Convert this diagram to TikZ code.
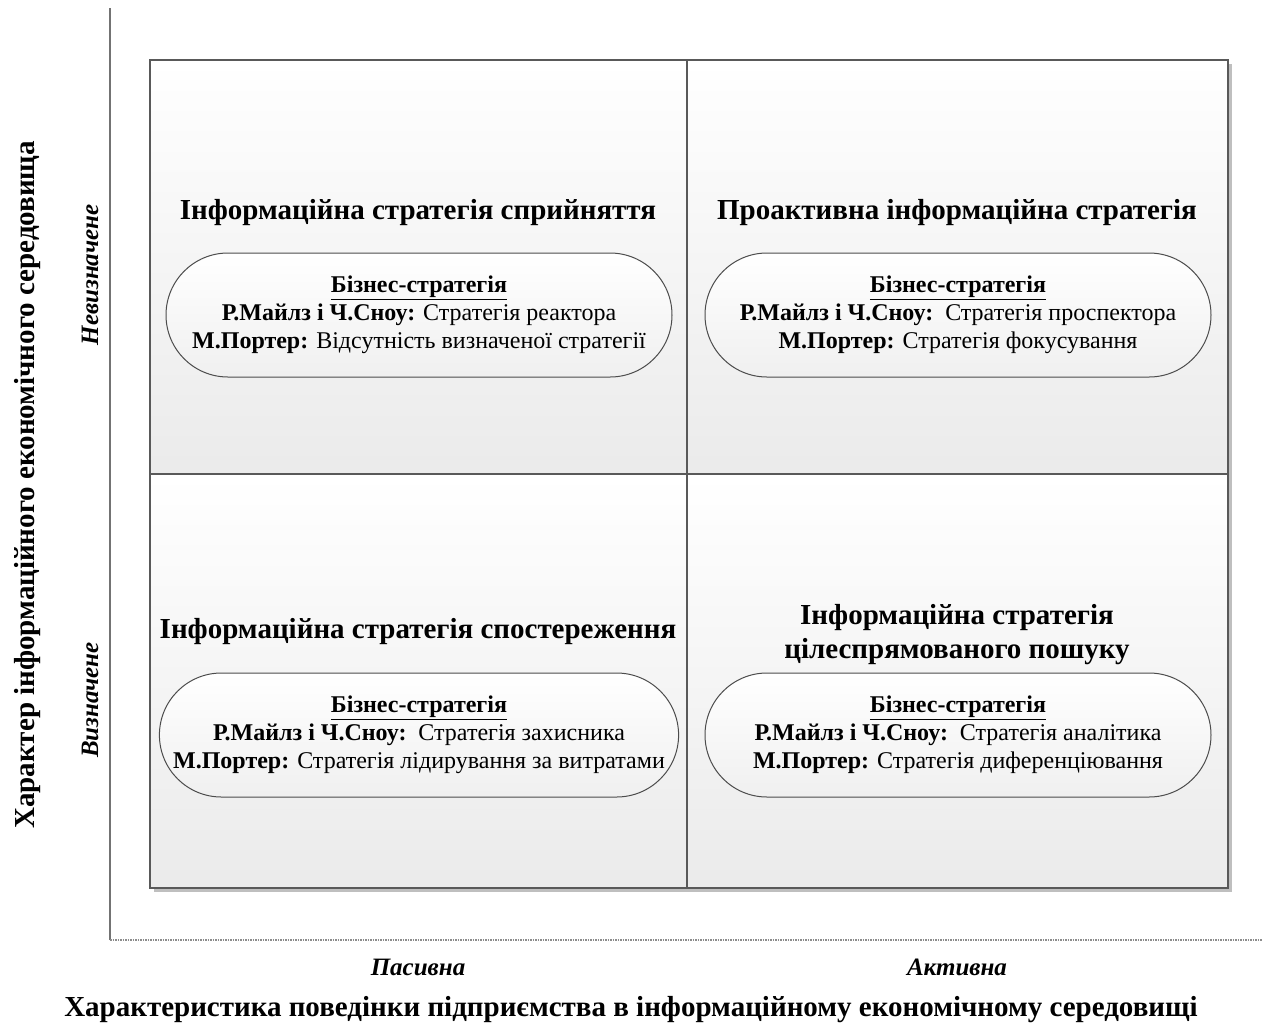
\documentclass[tikz,border=0pt]{standalone}
\usepackage{fontspec}
\setmainfont{Liberation Serif}
\usetikzlibrary{positioning,shapes.misc}

\begin{document}
\begin{tikzpicture}[x=1pt, y=-1pt, >=latex]
		\tikzstyle{quad}=[rectangle, draw=black!65, line width=1.2pt, top color=white, bottom color=black!8, inner sep=0pt, minimum height=414pt]
		\tikzstyle{pill}=[rounded rectangle, draw=black!70, line width=1pt, top color=white, bottom color=black!6, minimum width=506pt, minimum height=124pt, align=center, inner sep=0pt, font=\fontsize{24}{28}\selectfont]
		\tikzstyle{title}=[align=center, font=\fontsize{29}{34}\selectfont\bfseries]
		\tikzstyle{axis}=[font=\fontsize{25}{28}\selectfont\bfseries\itshape]
		\tikzstyle{axtitle}=[font=\fontsize{29}{32}\selectfont\bfseries]
		\useasboundingbox (0,0) rectangle (1262,1029);
		% axes
		\coordinate (o) at (110,940);
		\coordinate (ytop) at (110,8);
		\coordinate (xend) at (1262,940);
		\draw[black!55, line width=2pt] (o) -- (ytop);
		\draw[black!45, line width=1.5pt, densely dotted] (o) -- (xend);
		% shadow of the grid
		\fill[black!25] (154,64) rectangle (1232,892);
		% quadrants
		\node[quad, minimum width=537pt] (q1) at (418.5,267) {};
		\node[quad, minimum width=541pt] (q2) at (957.5,267) {};
		\node[quad, minimum width=537pt] (q3) at (418.5,681) {};
		\node[quad, minimum width=541pt] (q4) at (957.5,681) {};
		% business strategies
		\node[pill] (b1) at (419,315) {\textbf{\underline{Бізнес-стратегія}}\\
			\textbf{Р.Майлз і Ч.Сноу:} Стратегія реактора\\
			\textbf{М.Портер:} Відсутність визначеної стратегії};
		\node[pill] (b2) at (958,315) {\textbf{\underline{Бізнес-стратегія}}\\
			\textbf{Р.Майлз і Ч.Сноу:}\ \ Стратегія проспектора\\
			\textbf{М.Портер:} Стратегія фокусування};
		\node[pill] (b3) at (419,735) {\textbf{\underline{Бізнес-стратегія}}\\
			\textbf{Р.Майлз і Ч.Сноу:}\ \ Стратегія захисника\\
			\textbf{М.Портер:} Стратегія лідирування за витратами};
		\node[pill] (b4) at (958,735) {\textbf{\underline{Бізнес-стратегія}}\\
			\textbf{Р.Майлз і Ч.Сноу:}\ \ Стратегія аналітика\\
			\textbf{М.Портер:} Стратегія диференціювання};
		% information strategies
		\node[title] (s1) at (418,213) {Інформаційна стратегія сприйняття};
		\node[title] (s2) at (957,213) {Проактивна інформаційна стратегія};
		\node[title] (s3) at (418,632) {Інформаційна стратегія спостереження};
		\node[title] (s4) at (957,635) {Інформаційна стратегія\\ цілеспрямованого пошуку};
		% axis labels
		\node[axis] (pas) at (418,967) {Пасивна};
		\node[axis] (act) at (957,967) {Активна};
		\node[axtitle] (xt) at (631,1010) {Характеристика поведінки підприємства в інформаційному економічному середовищі};
		\node[axis, rotate=90] (nev) at (90,275) {Невизначене};
		\node[axis, rotate=90] (viz) at (90,700) {Визначене};
		\node[axtitle, rotate=90] (yt) at (28,485) {Характер інформаційного економічного середовища};
	\end{tikzpicture}
\end{document}
